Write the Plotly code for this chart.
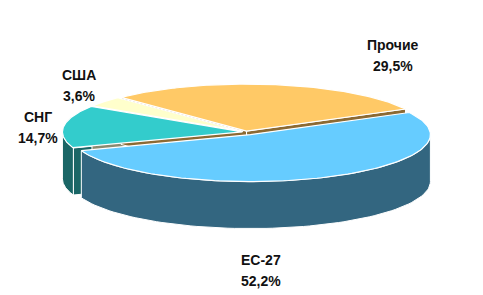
import numpy as np
import plotly.graph_objects as go

# ---- data ----
categories = ["ЕС-27", "СНГ", "США", "Прочие"]
values = [52.2, 14.7, 3.6, 29.5]
top_colors = ["#66CCFF", "#33CCCC", "#FFFFCC", "#FFC966"]
side_colors = ["#336680", "#1A6666", "#8A8A70", "#8C6A33"]
explode = [0.06, 0.02, 0.02, 0.02]
label_pos = [(261, 260), (38, 117), (79, 75), (393, 45)]

# ---- geometry (pixel space) ----
W, H = 483, 295
cx, cy, rx, ry, depth = 246, 132, 180, 47, 47
start = 62.0

def pt(theta, off=(0, 0), z=0):
    t = np.radians(theta)
    return cx + off[0] + rx * np.sin(t), cy + off[1] - ry * np.cos(t) + z

fig = go.Figure()
total = sum(values)
slices = []
a = start
for i, v in enumerate(values):
    span = v / total * 360
    a0, a1 = a, a + span
    m = np.radians((a0 + a1) / 2)
    off = (explode[i] * rx * np.sin(m), -explode[i] * ry * np.cos(m))
    slices.append((a0, a1, off))
    a = a1

def add_poly(xs, ys, color, lw=1):
    fig.add_trace(go.Scatter(x=list(xs), y=list(ys), fill="toself", fillcolor=color,
                             mode="lines", line=dict(color="white", width=lw),
                             hoverinfo="skip", showlegend=False))

# radial faces
for i, (a0, a1, off) in enumerate(slices):
    for ang, vis in ((a0, np.sin(np.radians(a0)) < 0), (a1, np.sin(np.radians(a1)) > 0)):
        if vis:
            ex, ey = pt(ang, off)
            c0x, c0y = cx + off[0], cy + off[1]
            add_poly([c0x, ex, ex, c0x, c0x], [c0y, ey, ey + depth, c0y + depth, c0y], side_colors[i])

# outer walls (front half)
for i, (a0, a1, off) in enumerate(slices):
    for k in range(-1, 2):
        lo, hi = max(a0, 90 + 360 * k), min(a1, 270 + 360 * k)
        if hi > lo:
            th = np.linspace(lo, hi, 80)
            tx, ty = pt(th, off)
            xs = np.concatenate([tx, tx[::-1], tx[:1]])
            ys = np.concatenate([ty, ty[::-1] + depth, ty[:1]])
            add_poly(xs, ys, side_colors[i])

# tops
for i, (a0, a1, off) in enumerate(slices):
    th = np.linspace(a0, a1, 120)
    tx, ty = pt(th, off)
    c0x, c0y = cx + off[0], cy + off[1]
    xs = np.concatenate([[c0x], tx, [c0x]])
    ys = np.concatenate([[c0y], ty, [c0y]])
    add_poly(xs, ys, top_colors[i], lw=1.2)

font = dict(family="Liberation Sans, Arial, sans-serif", size=14, color="#111111")
for name, v, (lx, ly) in zip(categories, values, label_pos):
    fig.add_annotation(x=lx, y=ly, text=f"<b>{name}</b>", showarrow=False, font=font,
                       xanchor="center", yanchor="middle")
    fig.add_annotation(x=lx, y=ly + 21, text="<b>" + f"{v:.1f}".replace(".", ",") + "%</b>",
                       showarrow=False, font=font, xanchor="center", yanchor="middle")

fig.update_layout(width=W, height=H, margin=dict(l=0, r=0, t=0, b=0),
                  paper_bgcolor="white", plot_bgcolor="white",
                  xaxis=dict(range=[0, W], visible=False, fixedrange=True),
                  yaxis=dict(range=[H, 0], visible=False, fixedrange=True))
fig.write_html("out.html")
